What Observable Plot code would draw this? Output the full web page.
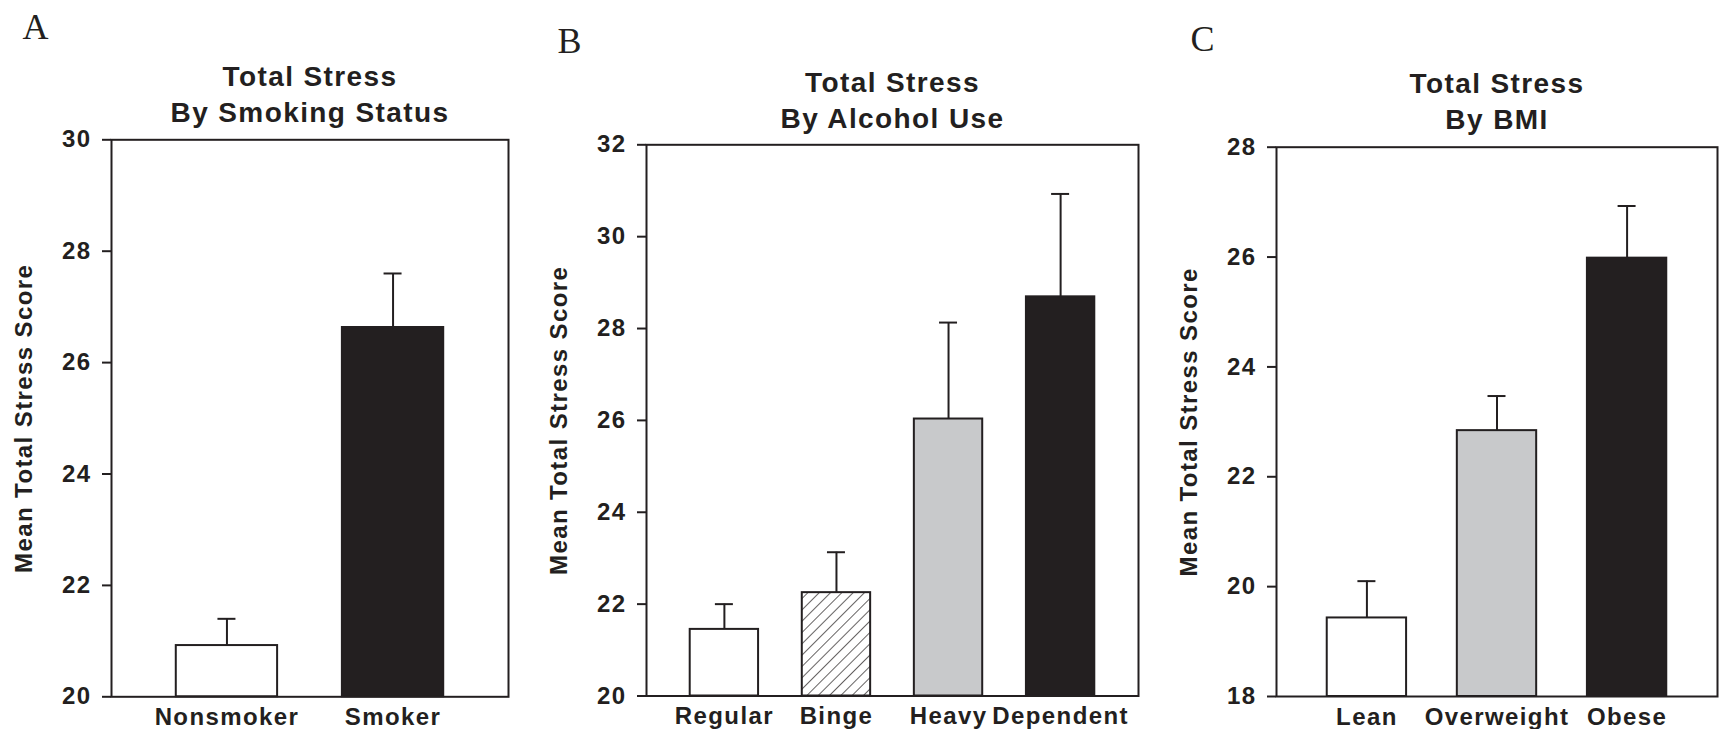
<!DOCTYPE html>
<html>
<head>
<meta charset="utf-8">
<script src="https://cdn.jsdelivr.net/npm/d3@7"></script>
<script src="https://cdn.jsdelivr.net/npm/@observablehq/plot@0.6"></script>
<style>
  html, body { margin: 0; padding: 0; background: #fff; }
  #chart { position: relative; width: 1719px; height: 729px; overflow: hidden; background: #fff; }
  #chart > div { position: absolute; top: 0; }
</style>
</head>
<body>
<div id="chart"></div>
<script>
// ---------- DATA ----------
const yAxisTitle = "Mean Total Stress Score";

const smokingLetter = "A";
const smokingTitle = "Total Stress\nBy Smoking Status";
const smokingCategories = ["Nonsmoker", "Smoker"];
const smokingMeans = [20.92, 26.63];
const smokingUpper = [21.40, 27.60];
const smokingTicks = [20, 22, 24, 26, 28, 30];

const alcoholLetter = "B";
const alcoholTitle = "Total Stress\nBy Alcohol Use";
const alcoholCategories = ["Regular", "Binge", "Heavy", "Dependent"];
const alcoholMeans = [21.45, 22.25, 26.03, 28.69];
const alcoholUpper = [22.00, 23.13, 28.13, 30.93];
const alcoholTicks = [20, 22, 24, 26, 28, 30, 32];

const bmiLetter = "C";
const bmiTitle = "Total Stress\nBy BMI";
const bmiCategories = ["Lean", "Overweight", "Obese"];
const bmiMeans = [19.43, 22.84, 25.98];
const bmiUpper = [20.10, 23.47, 26.93];
const bmiTicks = [18, 20, 22, 24, 26, 28];

// ---------- STYLE / LAYOUT ----------
const INK = "#231f20";
const WHITE = "#ffffff";
const GRAY = "#c8c9cb";
const HATCH = "url(#hatch)";
const PAD = 0.39;      // band padding
const CAP = 18;        // error-bar cap width in px

const panels = [
  { letter: smokingLetter, title: smokingTitle, categories: smokingCategories, means: smokingMeans, upper: smokingUpper,
    ticks: smokingTicks, fills: [WHITE, INK],
    left: 0, width: 540, marginLeft: 111, marginRight: 32, marginTop: 139.3, marginBottom: 32.7,
    titleDy: -18, letterDx: -89, letterDy: -101 },
  { letter: alcoholLetter, title: alcoholTitle, categories: alcoholCategories, means: alcoholMeans, upper: alcoholUpper,
    ticks: alcoholTicks, fills: [WHITE, HATCH, GRAY, INK],
    left: 540, width: 620, marginLeft: 106, marginRight: 22, marginTop: 144.3, marginBottom: 33.5,
    titleDy: -17, letterDx: -89, letterDy: -92 },
  { letter: bmiLetter, title: bmiTitle, categories: bmiCategories, means: bmiMeans, upper: bmiUpper,
    ticks: bmiTicks, fills: [WHITE, GRAY, INK],
    left: 1160, width: 559, marginLeft: 116, marginRight: 2, marginTop: 146.7, marginBottom: 33,
    titleDy: -18.5, letterDx: -86, letterDy: -96 }
];

function makePanel(cfg) {
  const data = cfg.categories.map((c, i) => ({ category: c, mean: cfg.means[i], upper: cfg.upper[i] }));
  const domain = [cfg.ticks[0], cfg.ticks[cfg.ticks.length - 1]];
  const n = cfg.categories.length;
  const plotW = cfg.width - cfg.marginLeft - cfg.marginRight;
  const step = plotW / (n + PAD);
  const bw = step * (1 - PAD);
  const capInset = (bw - CAP) / 2;

  const svg = Plot.plot({
    width: cfg.width,
    height: 729,
    marginTop: cfg.marginTop,
    marginBottom: cfg.marginBottom,
    marginLeft: cfg.marginLeft,
    marginRight: cfg.marginRight,
    style: {
      fontFamily: "'Liberation Sans', Arial, sans-serif",
      fontWeight: "bold",
      fontSize: "24px",
      color: INK,
      background: "white",
      letterSpacing: "1.4px",
      overflow: "visible"
    },
    x: { domain: cfg.categories, padding: PAD, round: false, label: null },
    y: { domain, label: null },
    color: { domain: cfg.categories, range: cfg.fills },
    marks: [
      Plot.barY(data, { x: "category", y1: () => domain[0], y2: "mean", fill: "category", stroke: INK, strokeWidth: 2 }),
      Plot.ruleX(data, { x: "category", y1: "mean", y2: "upper", stroke: INK, strokeWidth: 2 }),
      Plot.tickY(data, { x: "category", y: "upper", insetLeft: capInset, insetRight: capInset, stroke: INK, strokeWidth: 2 }),
      Plot.frame({ stroke: INK, strokeWidth: 2 }),
      Plot.axisY({ ticks: cfg.ticks, tickFormat: d => String(d), tickSize: 9, tickPadding: 11, strokeWidth: 2, fontSize: 24, fill: INK, label: null }),
      Plot.axisX({ tickSize: 0, tickPadding: 11, fontSize: 24, fill: INK, label: null }),
      Plot.text([cfg.title], { text: d => d, frameAnchor: "top", dy: cfg.titleDy, lineAnchor: "bottom", lineHeight: 1.27,
        textAnchor: "middle", fontSize: 28, fontWeight: "bold", fill: INK }),
      Plot.text([yAxisTitle], { text: d => d, frameAnchor: "left", dx: -87, rotate: -90, textAnchor: "middle", lineAnchor: "middle",
        fontSize: 24, fontWeight: "bold", fill: INK }),
      Plot.text([cfg.letter], { text: d => d, frameAnchor: "top-left", dx: cfg.letterDx, dy: cfg.letterDy, textAnchor: "start",
        lineAnchor: "bottom", fontSize: 36, fontWeight: "normal", fontFamily: "'Liberation Serif', 'Times New Roman', serif", fill: INK })
    ]
  });

  // hatch pattern definition for the patterned bar
  const defs = d3.select(svg).insert("defs", ":first-child");
  const pat = defs.append("pattern")
    .attr("id", "hatch")
    .attr("patternUnits", "userSpaceOnUse")
    .attr("width", 8).attr("height", 8)
    .attr("patternTransform", "rotate(45)");
  pat.append("rect").attr("width", 8).attr("height", 8).attr("fill", "white");
  pat.append("line").attr("x1", 0).attr("y1", 0).attr("x2", 0).attr("y2", 8)
    .attr("stroke", INK).attr("stroke-width", 1.4);

  const holder = document.createElement("div");
  holder.style.left = cfg.left + "px";
  holder.appendChild(svg);
  document.getElementById("chart").appendChild(holder);
}

panels.forEach(makePanel);
</script>
</body>
</html>
